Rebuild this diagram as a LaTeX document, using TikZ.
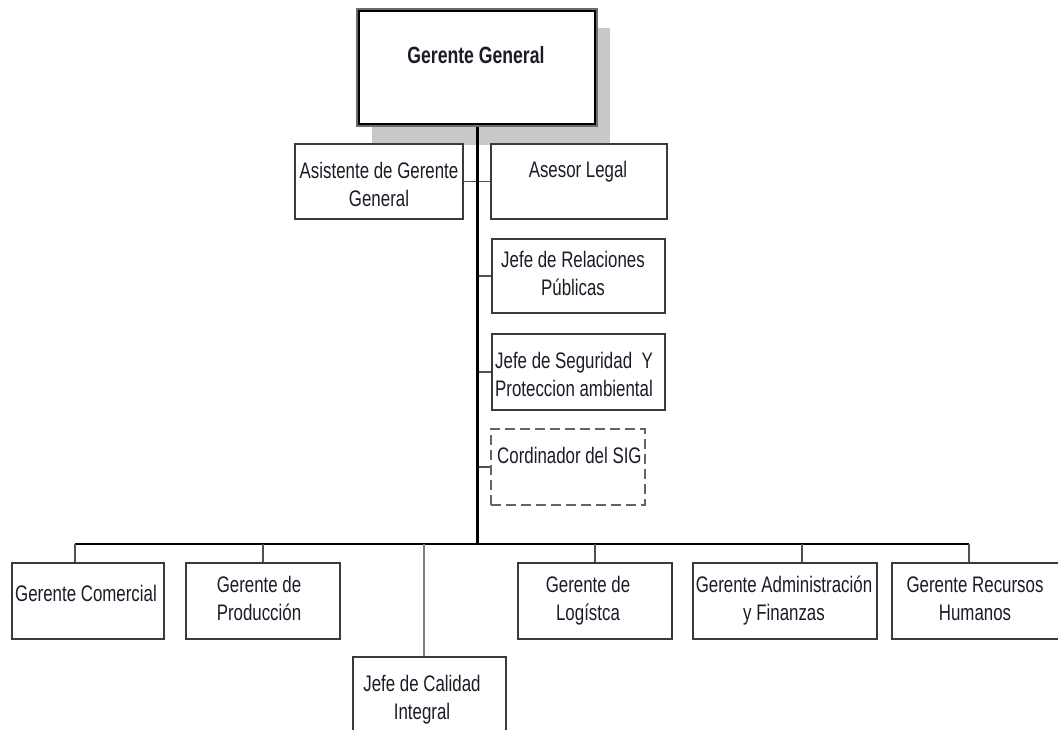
\documentclass[tikz,border=0pt]{standalone}
\usepackage{fontspec}
\setmainfont{Liberation Sans}[FakeStretch=0.75]
\definecolor{boxline}{HTML}{3A3A3A}
\definecolor{dropline}{HTML}{505050}
\definecolor{dashgray}{HTML}{646464}
\definecolor{shadowgray}{HTML}{C8C8C8}
\definecolor{ink}{HTML}{1C1C28}
\tikzset{
  orgbox/.style={draw=boxline, line width=1.8pt, fill=white, inner sep=0pt},
  dashbox/.style={draw=dashgray, line width=2.2pt, dash pattern=on 10pt off 5pt, inner sep=0pt},
  lbl/.style={text=ink, inner sep=0pt, align=center, anchor=base,
    font=\fontsize{22.5}{28}\selectfont},
  spine/.style={draw=black, line width=3pt},
  bus/.style={draw=black, line width=2pt},
  drop/.style={draw=dropline, line width=1.8pt},
  thin drop/.style={draw=gray, line width=1.4pt},
}
\begin{document}
\begin{tikzpicture}[x=1pt,y=-1pt]
\clip (0,0) rectangle (1058,729);
\fill[white] (0,0) rectangle (1058,729);

% top box with its drop shadow and double frame
\fill[shadowgray] (372,28) rectangle (610,145);
\node[draw=gray!85!black, line width=4pt, fill=white, minimum width=238, minimum height=115, inner sep=0pt] (gg) at (477,67.5) {};
\draw[black, line width=1.3pt] ([shift={(3,3)}]gg.north west) rectangle ([shift={(-3,-3)}]gg.south east);
\node[lbl, font=\fontsize{23.5}{28}\selectfont\bfseries] (ggt) at (476,63) {Gerente General};

% staff boxes
\node[orgbox, minimum width=168, minimum height=75] (asis) at (379,181.5) {};
\node[orgbox, minimum width=176, minimum height=75] (ases) at (579,181.5) {};
\node[orgbox, minimum width=173, minimum height=74] (rel) at (578.5,276) {};
\node[orgbox, minimum width=173, minimum height=76] (seg) at (578.5,372) {};
\node[dashbox, minimum width=154, minimum height=76] (cord) at (568,467) {};

% multi-line labels sit on the baseline of their last line
\node[lbl] (asist) at (379,206) {Asistente de Gerente\\General};
\node[lbl] (asest) at (578,177) {Asesor Legal};
\node[lbl] (relt) at (573,295) {Jefe de Relaciones\\Públicas};
\node[lbl] (segt) at (574,396) {Jefe de Seguridad\ \ Y\\Proteccion ambiental};
\node[lbl, anchor=base west] (cordt) at (497,463) {Cordinador del SIG};

% line management boxes
\node[orgbox, minimum width=152, minimum height=76] (com) at (88,601) {};
\node[orgbox, minimum width=154, minimum height=76] (prod) at (263,601) {};
\node[orgbox, minimum width=153, minimum height=78] (cal) at (429.5,696) {};
\node[orgbox, minimum width=154, minimum height=76] (log) at (595,601) {};
\node[orgbox, minimum width=184, minimum height=76] (adm) at (785,601) {};
\node[orgbox, minimum width=168, minimum height=76] (rec) at (976,601) {};

\node[lbl] (comt) at (86,601) {Gerente Comercial};
\node[lbl] (prodt) at (259,620) {Gerente de\\Producción};
\node[lbl] (calt) at (422,719) {Jefe de Calidad\\Integral};
\node[lbl] (logt) at (588,620) {Gerente de\\Logístca};
\node[lbl] (admt) at (784,620) {Gerente Administración\\y Finanzas};
\node[lbl] (rect) at (975,620) {Gerente Recursos\\Humanos};

% connectors
\coordinate (hub) at (477,544);
\coordinate (bl) at (75,544);
\coordinate (br) at (969,544);
\coordinate (dprod) at (263,544);
\coordinate (dcal) at (424,544);
\coordinate (dlog) at (595,544);
\coordinate (dadm) at (802,544);

\draw[drop] (asis.east) -- (ases.west);
\draw[drop] (rel.west) -- (rel.west -| hub);
\draw[drop] (seg.west) -- (seg.west -| hub);
\draw[drop] (cord.west) -- (cord.west -| hub);
\draw[spine] (gg.south) -- (hub);
\draw[bus] (bl) -- (br);
\draw[drop] (bl) -- (bl |- com.north);
\draw[drop] (dprod) -- (prod.north);
\draw[thin drop] (dcal) -- (dcal |- cal.north);
\draw[drop] (dlog) -- (log.north);
\draw[drop] (dadm) -- (dadm |- adm.north);
\draw[drop] (br) -- (br |- rec.north);
\end{tikzpicture}
\end{document}
